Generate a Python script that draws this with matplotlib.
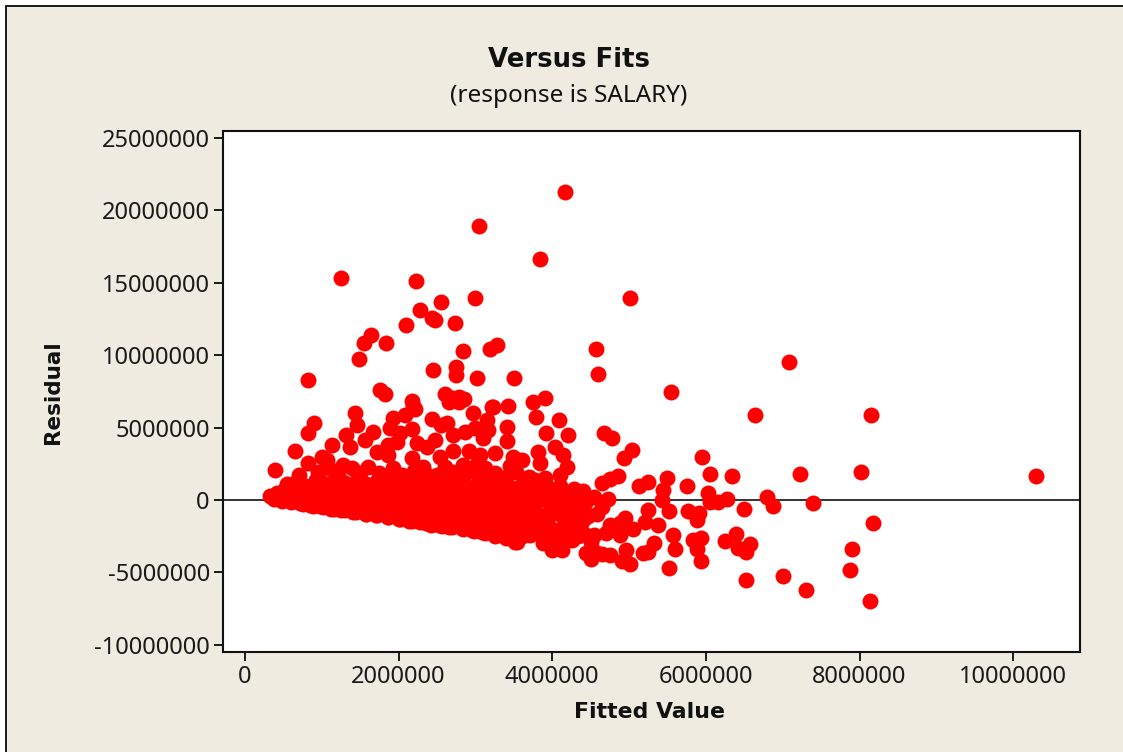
import matplotlib
matplotlib.use("Agg")
import matplotlib.pyplot as plt
from matplotlib.patches import Rectangle

plt.rcParams['font.family'] = ['Noto Sans', 'DejaVu Sans']

# values, in millions
far_points = [
    (4.17, 21.27), (3.05, 18.9), (3.84, 16.64), (1.25, 15.33), (2.23, 15.12), (5.01, 13.95), (2.99, 13.95),
    (2.55, 13.67), (2.28, 13.12), (2.43, 12.57), (2.47, 12.45), (2.73, 12.22), (2.10, 12.09), (1.64, 11.4),
    (1.55, 10.84), (1.84, 10.84), (3.19, 10.43), (3.28, 10.7), (2.84, 10.29), (1.48, 9.74), (4.57, 10.43),
    (7.08, 9.53), (4.6, 8.7), (2.45, 8.98), (2.75, 9.19), (2.75, 8.63), (3.02, 8.43), (3.5, 8.43), (0.82, 8.29),
    (5.55, 7.46), (1.76, 7.6), (1.82, 7.32), (2.6, 7.32), (2.7, 7.04), (2.78, 7.1), (2.85, 6.97), (2.65, 6.77),
    (2.78, 6.77), (3.91, 7.04), (3.75, 6.77), (2.17, 6.84), (2.19, 6.5), (3.22, 6.4), (3.42, 6.5), (1.43, 6.0),
    (6.64, 5.87), (8.15, 5.87), (3.79, 5.73), (4.09, 5.55), (0.9, 5.32), (0.82, 4.63), (0.65, 3.38), (0.39, 2.07),
    (4.67, 4.63), (4.78, 4.28), (3.92, 4.63), (4.2, 4.5), (5.04, 3.45), (4.93, 2.9), (5.95, 2.97), (4.04, 3.66),
    (6.05, 1.8), (6.34, 1.66), (7.23, 1.8), (8.02, 1.93), (10.3, 1.66), (5.49, 1.52), (5.25, 1.24), (5.13, 0.97),
    (5.76, 0.97), (5.44, 0.69), (5.43, 0.0), (6.03, 0.48), (6.05, -0.14), (6.16, -0.14), (6.28, 0.07), (6.8, 0.2),
    (6.88, -0.41), (7.4, -0.2), (6.5, -0.62), (8.18, -1.59), (7.9, -3.38), (7.88, -4.83), (8.13, -6.98),
    (7.3, -6.22), (7.0, -5.25), (6.52, -5.52), (5.52, -4.7), (5.94, -4.21), (5.89, -3.38), (5.94, -2.62),
    (5.83, -2.76), (6.25, -2.83), (6.39, -2.35), (6.58, -3.04), (6.52, -3.59), (6.42, -3.31), (5.77, -0.76),
    (5.91, -0.9), (5.89, -1.38), (5.52, -0.76), (5.25, -0.69), (5.21, -1.52), (5.38, -1.73), (5.57, -2.42),
    (5.6, -3.38), (5.33, -2.97), (5.18, -3.66), (5.25, -3.59), (5.01, -4.42), (4.91, -4.21), (4.96, -3.45),
    (4.75, -3.8), (4.65, -3.73), (4.56, -3.59), (4.44, -3.66), (4.51, -4.07), (5.05, -2.0), (4.95, -1.24),
    (4.88, -2.42), (4.88, -1.59), (4.75, -1.73), (4.7, -2.28), (4.54, -2.42), (4.86, 1.66), (4.75, 1.45),
    (4.65, 1.17), (4.4, 0.62), (4.73, 0.07), (4.65, -0.48),
]

upper_points = [
    (1.46, 5.18), (1.67, 4.7), (1.56, 4.14), (1.32, 4.49), (1.13, 3.8), (1.0, 2.97), (0.82, 2.56), (1.37, 3.66),
    (1.07, 2.76), (2.21, 6.28), (2.08, 5.87), (1.93, 5.66), (1.89, 4.97), (2.17, 4.9), (2.02, 4.63), (1.98, 4.0),
    (1.86, 3.8), (1.72, 3.3), (2.43, 5.6), (2.63, 5.3), (2.55, 5.2), (2.71, 4.5), (2.97, 6.0), (3.23, 6.4),
    (3.41, 5.04), (3.41, 4.07), (3.15, 5.52), (3.16, 4.83), (3.1, 4.28), (2.86, 4.7), (2.99, 4.97), (2.47, 4.14),
    (2.24, 3.94), (2.37, 3.66), (2.54, 2.97), (2.71, 3.38), (2.92, 3.38), (3.06, 3.1), (3.26, 3.24), (3.03, 2.62),
    (3.49, 2.97), (3.6, 2.76), (3.82, 3.3), (3.84, 2.56), (3.53, 1.93), (2.7, 1.93), (2.84, 2.42), (3.26, 1.86),
    (2.17, 2.9), (1.93, 2.2), (1.6, 2.28), (1.39, 2.2), (2.37, 1.73), (1.86, 3.1), (4.19, 2.28), (4.14, 3.1),
    (4.1, 1.75), (3.0, 1.95), (2.05, 1.75), (1.75, 1.85), (1.2, 1.9), (0.7, 1.75), (0.55, 1.1), (2.6, 2.3),
    (0.95, 1.95), (1.1, 2.2), (1.5, 1.85), (1.9, 1.7), (2.2, 2.0), (2.5, 1.75), (2.85, 1.75), (3.15, 1.7),
    (3.4, 1.6), (3.7, 1.6), (3.9, 1.55), (2.32, 2.3), (2.95, 2.2), (3.45, 2.35), (3.12, 2.2), (1.28, 2.4),
]

band_points = [
    (0.33, 0.3), (0.38, 0.1), (0.42, 0.45), (0.48, -0.05), (0.52, 0.75), (0.55, 0.25), (0.6, -0.15), (0.66, 0.5),
    (0.68, 1.3), (0.72, -0.2), (0.78, 0.95), (0.82, 0.2), (0.85, -0.35), (0.92, 1.4), (0.95, 0.6), (0.98, -0.45),
    (1.05, 0.1), (1.1, 1.05), (1.12, -0.6), (1.2, 0.45), (1.22, 1.5), (1.25, -0.7), (1.32, -0.1), (1.38, 0.9),
    (1.4, -0.85), (1.46, 1.4), (1.5, 0.3), (1.55, -0.4), (1.58, -0.95), (1.65, 0.8), (1.7, -1.05), (1.72, 0.05),
    (1.78, 1.3), (1.82, -0.6), (1.86, -1.15), (1.9, 0.5), (1.96, -0.15), (2.0, 1.05), (2.02, -1.3), (2.08, -0.75),
    (2.12, 0.25), (2.16, 1.35), (2.18, -1.45), (2.25, -0.35), (2.28, 0.75), (2.32, -1.0), (2.36, -1.6), (2.4, 0.2),
    (2.46, 1.3), (2.5, -0.6), (2.52, -1.75), (2.58, 0.55), (2.62, -1.25), (2.66, -1.85), (2.7, 0.0), (2.76, 1.1),
    (2.8, -0.8), (2.82, -1.95), (2.88, 0.45), (2.92, -1.45), (2.96, -2.05), (3.0, -0.25), (3.05, 1.2), (3.08, -2.2),
    (3.1, -1.0), (3.15, 0.5), (3.2, -1.7), (3.24, -2.35), (3.28, -0.5), (3.32, 0.95), (3.36, -1.25), (3.38, -2.45),
    (3.44, 0.25), (3.48, -0.35), (3.5, -2.0), (3.52, -2.9), (3.56, -1.0), (3.6, -2.5), (0.9, -0.1), (1.0, 0.45),
    (1.3, 0.15), (1.45, -0.55), (1.62, 0.35), (1.75, -0.5), (2.0, 0.3), (2.2, -0.55), (2.44, -0.75), (2.55, -0.05),
    (2.75, 0.6), (2.85, -0.4), (3.12, -0.3), (3.18, -2.0), (3.0, -1.5), (2.7, -1.45), (3.35, -0.05), (3.4, -1.7),
    (3.62, 1.15), (3.7, 0.5), (3.74, -0.6), (3.78, 1.4), (3.8, -1.4), (3.85, 0.1), (3.88, -2.97), (3.92, 1.0),
    (3.95, -0.9), (4.0, -3.45), (4.02, -2.1), (4.06, 0.55), (4.13, -3.45), (4.15, -1.3), (4.2, 0.1), (4.26, -2.76),
    (4.3, -0.7), (4.36, -1.8), (4.42, -0.2), (4.46, -1.1), (4.5, -2.9), (4.55, 0.2), (4.58, -0.95), (3.71, -2.42),
    (3.66, -1.7), (3.9, -2.5), (4.1, -2.6), (4.22, -2.0), (4.34, -2.5), (4.28, 0.75), (3.98, -0.2), (3.68, -0.1),
]

# the solid part of the cloud, left to right
solid_points = [
    (0.62, 0.9), (0.62, 0.3), (0.75, 0.55), (0.75, 0.05), (0.75, -0.25), (0.88, 1.0), (0.88, 0.55), (0.88, 0.0),
    (0.88, -0.4), (1.02, 1.15), (1.02, 0.75), (1.02, 0.3), (1.02, -0.2), (1.02, -0.5), (1.16, 1.3), (1.16, 0.8),
    (1.16, 0.35), (1.16, -0.1), (1.16, -0.55), (1.16, -0.65), (1.3, 1.2), (1.3, 0.7), (1.3, 0.3), (1.3, -0.3),
    (1.3, -0.7), (1.44, 1.0), (1.44, 0.55), (1.44, 0.05), (1.44, -0.3), (1.44, -0.8), (1.58, 1.1), (1.58, 0.65),
    (1.58, 0.15), (1.58, -0.3), (1.58, -0.65), (1.58, -1.0), (1.72, 1.3), (1.72, 0.7), (1.72, 0.25), (1.72, -0.3),
    (1.72, -0.7), (1.72, -1.05), (1.86, 1.0), (1.86, 0.55), (1.86, 0.0), (1.86, -0.4), (1.86, -0.85), (1.86, -1.2),
    (2.0, 0.8), (2.0, -0.25), (2.0, -0.65), (2.0, -1.05), (2.0, -1.3), (2.14, 1.1), (2.14, 0.6), (2.14, 0.1),
    (2.14, -0.3), (2.14, -0.8), (2.14, -1.15), (2.14, -1.45), (2.28, 1.15), (2.28, 0.4), (2.28, 0.0), (2.28, -0.45),
    (2.28, -0.95), (2.28, -1.3), (2.28, -1.55), (2.42, 1.0), (2.42, 0.5), (2.42, 0.0), (2.42, -0.5), (2.42, -1.0),
    (2.42, -1.3), (2.42, -1.7), (2.56, 1.2), (2.56, 0.8), (2.56, 0.2), (2.56, -0.35), (2.56, -0.85), (2.56, -1.35),
    (2.56, -1.8), (2.7, 0.9), (2.7, 0.4), (2.7, -0.3), (2.7, -0.75), (2.7, -1.15), (2.7, -1.7), (2.7, -1.9),
    (2.84, 1.15), (2.84, 0.7), (2.84, 0.15), (2.84, -0.15), (2.84, -0.75), (2.84, -1.25), (2.84, -1.65), (2.84, -2.0),
    (2.98, 0.9), (2.98, 0.4), (2.98, -0.05), (2.98, -0.7), (2.98, -1.1), (2.98, -1.75), (2.98, -2.15), (3.12, 1.0),
    (3.12, 0.25), (3.12, -0.6), (3.12, -1.3), (3.12, -1.6), (3.12, -2.1), (3.12, -2.3), (3.26, 0.8), (3.26, 0.2),
    (3.26, -0.15), (3.26, -0.8), (3.26, -1.4), (3.26, -1.9), (3.26, -2.5), (3.4, 1.1), (3.4, 0.6), (3.4, -0.4),
    (3.4, -0.9), (3.4, -1.3), (3.4, -2.1), (3.4, -2.6), (3.54, 0.7), (3.54, 0.2), (3.54, -0.5), (3.54, -1.4),
    (3.54, -1.75), (3.54, -2.3), (3.54, -2.9), (3.65, 0.9), (3.65, 0.15), (3.65, -0.4), (3.65, -1.1), (3.65, -2.0),
    (3.8, 0.5), (3.8, -0.1), (3.8, -0.95), (3.8, -1.9), (3.95, 0.6), (3.95, 0.2), (3.95, -1.2), (3.95, -1.7),
    (3.95, -2.2), (3.95, -2.9), (4.1, 0.95), (4.1, -0.5), (4.1, -1.0), (4.1, -2.1), (4.1, -3.0), (4.25, 0.4),
    (4.25, -0.3), (4.25, -1.3), (4.4, 0.2), (4.4, -0.5), (4.4, -1.4), (4.4, -2.3),
]

# more of the same, between the columns above
between_points = [
    (1.09, 0.55), (1.23, 1.0), (1.23, -0.35), (1.37, 0.45), (1.51, 0.8), (1.51, -0.15), (1.65, -0.15), (1.65, -0.75),
    (1.79, 0.45), (1.79, -0.2), (1.93, 0.9), (1.93, 0.15), (1.93, -0.65), (2.07, 0.6), (2.07, -0.45), (2.07, -1.05),
    (2.21, 0.85), (2.21, 0.2), (2.21, -1.0), (2.35, 0.65), (2.35, 0.15), (2.35, -0.75), (2.35, -1.3), (2.49, 0.75),
    (2.49, 0.25), (2.49, -0.25), (2.49, -1.2), (2.63, 1.0), (2.63, 0.1), (2.63, -0.6), (2.63, -1.55), (2.77, 0.25),
    (2.77, -0.5), (2.77, -1.25), (2.91, 0.8), (2.91, 0.0), (2.91, -0.9), (2.91, -1.8), (3.05, 0.7), (3.05, 0.1),
    (3.05, -0.7), (3.05, -1.25), (3.05, -1.85), (3.19, 0.75), (3.19, 0.0), (3.19, -0.8), (3.19, -1.35), (3.33, 0.45),
    (3.33, -0.6), (3.33, -1.0), (3.33, -1.65), (3.33, -2.15), (3.47, 0.85), (3.47, -0.75), (3.47, -1.55), (3.47, -2.4),
]

xticks = [0, 2000000, 4000000, 6000000, 8000000, 10000000]
yticks = [-10000000, -5000000, 0, 5000000, 10000000, 15000000, 20000000, 25000000]

points = far_points + upper_points + band_points + solid_points + between_points
fitted = [p[0] * 1e6 for p in points]
residual = [p[1] * 1e6 for p in points]

fig = plt.figure(figsize=(11.23, 7.52), dpi=100, facecolor='white')
fig.add_artist(Rectangle((6 / 1123, -0.01), 1.1, 1 - 6 / 752 + 0.01, transform=fig.transFigure,
                         facecolor='#efebe0', edgecolor='#1a1a1a', linewidth=1.4, zorder=-5))

ax = fig.add_axes([223 / 1123, 1 - 652 / 752, 857 / 1123, 521 / 752], facecolor='white')
ax.axhline(0, color='#333333', linewidth=1.4, zorder=1)
ax.scatter(fitted, residual, s=132, color='#ff0000', linewidths=0, zorder=2)

ax.set_xlim(-286000, 10870000)
ax.set_ylim(-10500000, 25480000)
ax.set_xticks(xticks, [str(t) for t in xticks])
ax.set_yticks(yticks, [str(t) for t in yticks])
ax.tick_params(length=6.5, width=1.4, labelsize=17, color='#1a1a1a', labelcolor='#1a1a1a', pad=3)
for side in ax.spines.values():
    side.set_linewidth(1.5)
    side.set_color('#111111')

# Noto Sans has no bold here, DejaVu bold is the nearest
bold = dict(family='DejaVu Sans', fontweight='bold', color='#111111', ha='center', va='center')
fig.text(569 / 1123, 1 - 60 / 752, "Versus Fits", fontsize=18.7, **bold)
fig.text(569 / 1123, 1 - 96 / 752, "(response is SALARY)", ha='center', va='center', fontsize=17.5, color='#111111')
fig.text(650 / 1123, 1 - 712 / 752, "Fitted Value", fontsize=15.8, **bold)
fig.text(53 / 1123, 1 - 392 / 752, "Residual", rotation=90, fontsize=15.5, **bold)

fig.savefig("out.png", dpi=100, facecolor=fig.get_facecolor())
